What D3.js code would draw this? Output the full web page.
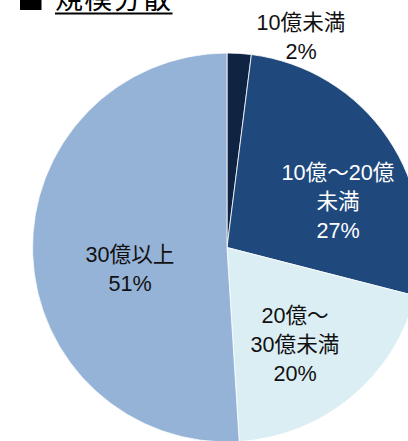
<!DOCTYPE html>
<html>
<head>
<meta charset="utf-8">
<script src="https://cdn.jsdelivr.net/npm/d3@7"></script>
<style>
  html, body { margin: 0; padding: 0; background: #ffffff; }
  svg { display: block; }
</style>
</head>
<body>
<svg id="chart" width="408" height="441"></svg>
<script>
// Portfolio breakdown by property size
const categories = ["10億未満", "10億～20億未満", "20億～30億未満", "30億以上"];
const shares = [2, 27, 20, 51];
// Label text, one line per entry
const labelLines = [
  ["10億未満", "2%"],
  ["10億～20億", "未満", "27%"],
  ["20億～", "30億未満", "20%"],
  ["30億以上", "51%"]
];
const sliceColors = ["#0f2442", "#1f497d", "#dbeef4", "#95b3d7"];
const labelColors = ["#111111", "#ffffff", "#111111", "#111111"];
// Label block centres relative to the pie centre
const labelOffsets = [[74, -211], [111, -46], [68, 97], [-97, 21]];

const svg = d3.select("#chart");
const cx = 227, cy = 247.5, radius = 194.5;

const pie = d3.pie().sort(null).value(d => d.value);
const arc = d3.arc().innerRadius(0).outerRadius(radius);
const data = pie(categories.map((c, i) => ({ name: c, value: shares[i], i })));

const g = svg.append("g").attr("transform", `translate(${cx},${cy})`);

g.selectAll("path")
  .data(data)
  .join("path")
  .attr("d", arc)
  .attr("fill", d => sliceColors[d.data.i])
  .attr("stroke", "#ffffff")
  .attr("stroke-width", 0.8);

const fontFamily = "'Liberation Sans', Arial, 'Noto Sans CJK JP', sans-serif";
const lineH = 29;

data.forEach(d => {
  const i = d.data.i;
  const lines = labelLines[i];
  const [ox, oy] = labelOffsets[i];
  const t = g.append("text")
    .attr("text-anchor", "middle")
    .attr("font-family", fontFamily)
    .attr("font-size", 21.6)
    .attr("fill", labelColors[i]);
  const y0 = oy - (lines.length - 1) * lineH / 2;
  lines.forEach((ln, k) => {
    t.append("tspan")
      .attr("x", ox)
      .attr("y", y0 + k * lineH)
      .attr("dy", "0.36em")
      .text(ln);
  });
});

// Section heading
svg.append("rect")
  .attr("x", 20).attr("y", -11)
  .attr("width", 21.5).attr("height", 21)
  .attr("fill", "#000000");
svg.append("text")
  .attr("x", 55).attr("y", 9)
  .attr("font-family", "'Noto Sans CJK JP', sans-serif")
  .attr("font-size", 28)
  .attr("letter-spacing", 1.3)
  .attr("fill", "#000000")
  .text("規模分散");
svg.append("rect")
  .attr("x", 55).attr("y", 12.5)
  .attr("width", 117.5).attr("height", 2)
  .attr("fill", "#000000");
</script>
</body>
</html>
